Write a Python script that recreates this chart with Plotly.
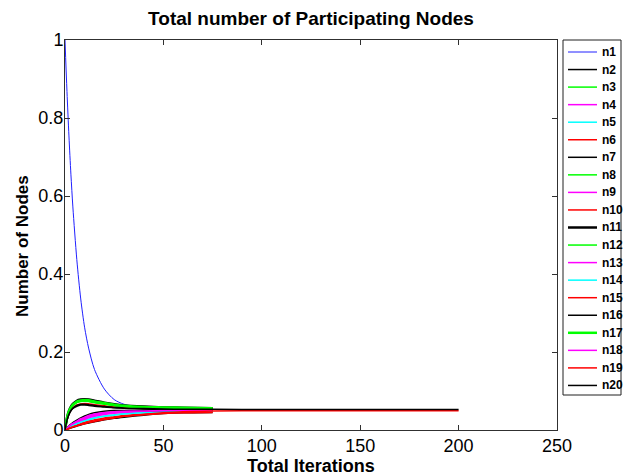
import plotly.graph_objects as go

# Iteration indices at which each node's share was sampled
iters = [0, 1, 2, 3, 4, 6, 8, 10, 12, 15, 20, 25, 30, 40, 50, 60, 75]
iters_long = iters + [100, 150, 200]

n1 = [1.0, 0.868, 0.754, 0.656, 0.572, 0.437, 0.336, 0.262, 0.210, 0.155, 0.105, 0.078, 0.066, 0.056, 0.052, 0.051, 0.050]
n2 = [0, 0.002, 0.004, 0.005, 0.007, 0.010, 0.013, 0.016, 0.018, 0.021, 0.026, 0.030, 0.033, 0.038, 0.042, 0.044, 0.045]
n3 = [0, 0.029, 0.047, 0.057, 0.064, 0.072, 0.075, 0.076, 0.075, 0.072, 0.068, 0.064, 0.061, 0.058, 0.057, 0.056, 0.055]
n4 = [0, 0.005, 0.009, 0.013, 0.016, 0.022, 0.027, 0.031, 0.035, 0.039, 0.043, 0.046, 0.047, 0.049, 0.049, 0.050, 0.050]
n5 = [0, 0.003, 0.006, 0.009, 0.012, 0.017, 0.021, 0.025, 0.028, 0.032, 0.036, 0.039, 0.042, 0.045, 0.047, 0.048, 0.049]
n6 = [0, 0.026, 0.041, 0.051, 0.057, 0.064, 0.067, 0.068, 0.067, 0.065, 0.062, 0.059, 0.057, 0.055, 0.054, 0.053, 0.053]
n7 = [0, 0.025, 0.040, 0.049, 0.055, 0.061, 0.064, 0.064, 0.063, 0.061, 0.059, 0.057, 0.056, 0.054, 0.053, 0.053, 0.052]
n8 = [0, 0.029, 0.046, 0.056, 0.063, 0.071, 0.074, 0.075, 0.074, 0.071, 0.067, 0.063, 0.061, 0.058, 0.056, 0.055, 0.055]
n9 = [0, 0.004, 0.008, 0.012, 0.015, 0.020, 0.025, 0.029, 0.033, 0.037, 0.041, 0.044, 0.046, 0.048, 0.049, 0.049, 0.050]
n10 = [0, 0.002, 0.005, 0.007, 0.009, 0.013, 0.017, 0.020, 0.023, 0.026, 0.031, 0.034, 0.037, 0.041, 0.044, 0.045, 0.046]
n11 = [0, 0.031, 0.049, 0.060, 0.067, 0.075, 0.078, 0.079, 0.078, 0.075, 0.070, 0.066, 0.063, 0.060, 0.058, 0.057, 0.056]
n12 = [0, 0.028, 0.045, 0.055, 0.062, 0.070, 0.073, 0.074, 0.073, 0.070, 0.066, 0.063, 0.060, 0.057, 0.056, 0.055, 0.054]
n13 = [0, 0.004, 0.007, 0.011, 0.014, 0.019, 0.023, 0.027, 0.031, 0.035, 0.040, 0.043, 0.045, 0.047, 0.048, 0.049, 0.049]
n14 = [0, 0.003, 0.006, 0.008, 0.011, 0.016, 0.020, 0.023, 0.026, 0.030, 0.035, 0.038, 0.041, 0.044, 0.046, 0.047, 0.048]
n15 = [0, 0.002, 0.004, 0.006, 0.008, 0.011, 0.014, 0.017, 0.020, 0.023, 0.028, 0.032, 0.035, 0.039, 0.042, 0.044, 0.045]
n16 = [0, 0.006, 0.011, 0.015, 0.019, 0.025, 0.031, 0.036, 0.040, 0.044, 0.048, 0.050, 0.050, 0.050, 0.050, 0.050, 0.050]
n17 = [0, 0.030, 0.048, 0.058, 0.065, 0.073, 0.076, 0.077, 0.076, 0.073, 0.069, 0.065, 0.062, 0.059, 0.058, 0.057, 0.056]
n18 = [0, 0.005, 0.010, 0.014, 0.017, 0.023, 0.029, 0.033, 0.037, 0.041, 0.045, 0.047, 0.048, 0.049, 0.050, 0.050, 0.050]
n19 = [0, 0.002, 0.004, 0.006, 0.008, 0.011, 0.014, 0.016, 0.019, 0.022, 0.027, 0.031, 0.035, 0.040, 0.044, 0.047, 0.049, 0.0495, 0.0495, 0.0495]
n20 = [0, 0.025, 0.040, 0.050, 0.056, 0.063, 0.066, 0.066, 0.065, 0.063, 0.060, 0.058, 0.056, 0.055, 0.054, 0.053, 0.053, 0.0527, 0.0525, 0.0525]

names = [f"n{i}" for i in range(1, 21)]
series = [n1, n2, n3, n4, n5, n6, n7, n8, n9, n10,
          n11, n12, n13, n14, n15, n16, n17, n18, n19, n20]
colors = ["#2020ff", "#000000", "#00ff00", "#ff00ff", "#00ffff", "#ff0000",
          "#000000", "#00ff00", "#ff00ff", "#ff0000", "#000000", "#00ff00",
          "#ff00ff", "#00ffff", "#ff0000", "#000000", "#00ff00", "#ff00ff",
          "#ff0000", "#000000"]
widths = [1, 1.5, 1.5, 1.5, 1.5, 1.5, 1.5, 1.5, 1.5, 1.5,
          2.5, 1.5, 1.5, 1.5, 1.5, 1.5, 2.5, 1.5, 1.5, 1.5]

FONT = "Liberation Sans, Arial, Helvetica, sans-serif"

fig = go.Figure()
for name, ys, col, w in zip(names, series, colors, widths):
    xs = iters_long if len(ys) == len(iters_long) else iters
    fig.add_trace(go.Scatter(
        x=xs, y=ys, mode="lines", name=name,
        line=dict(color=col, width=w, shape="spline", smoothing=0.8),
        showlegend=False,
    ))

# Plot area in pixels: x 65..557, y 40..430
L, R, T, B = 65, 557, 40, 430
W, H = R - L, B - T


def px_x(p):
    return (p - L) / W


def px_y(p):
    return (B - p) / H


shapes = [dict(type="rect", xref="paper", yref="paper",
               x0=px_x(563), x1=px_x(621), y0=px_y(395), y1=px_y(40),
               line=dict(color="#202020", width=1), fillcolor="white")]
annotations = []
for i, (name, col, w) in enumerate(zip(names, colors, widths)):
    yc = px_y(52 + i * 17.55)
    shapes.append(dict(type="line", xref="paper", yref="paper",
                       x0=px_x(568), x1=px_x(597), y0=yc, y1=yc,
                       line=dict(color=col, width=w)))
    annotations.append(dict(xref="paper", yref="paper", x=px_x(600), y=yc,
                            xanchor="left", yanchor="middle", showarrow=False,
                            text=f"<b>{name}</b>",
                            font=dict(family=FONT, size=12, color="black")))

# Axis titles
annotations.append(dict(xref="paper", yref="paper", x=px_x(311), y=px_y(466),
                        xanchor="center", yanchor="middle", showarrow=False,
                        text="<b>Total Iterations</b>",
                        font=dict(family=FONT, size=18, color="black")))
annotations.append(dict(xref="paper", yref="paper", x=px_x(22), y=px_y(246),
                        xanchor="center", yanchor="middle", showarrow=False,
                        textangle=-90, text="<b>Number of Nodes</b>",
                        font=dict(family=FONT, size=17, color="black")))

axis_common = dict(
    showline=True, linecolor="#303030", linewidth=1, mirror="ticks",
    ticks="inside", ticklen=5, tickcolor="#303030",
    showgrid=False, zeroline=False,
    tickfont=dict(family=FONT, size=18, color="black"),
)

fig.update_layout(
    width=623, height=475,
    margin=dict(l=L, r=623 - R, t=T, b=475 - B),
    paper_bgcolor="white", plot_bgcolor="white",
    title=dict(text="<b>Total number of Participating Nodes</b>",
               x=(L + R) / 2 / 623, xanchor="center", y=1 - 18 / 475, yanchor="middle",
               font=dict(family=FONT, size=19, color="black")),
    xaxis=dict(range=[0, 250], tickvals=[0, 50, 100, 150, 200, 250],
               ticklabelstandoff=-1, **axis_common),
    yaxis=dict(range=[0, 1], tickvals=[0, 0.2, 0.4, 0.6, 0.8, 1],
               ticktext=["0", "0.2", "0.4", "0.6", "0.8", "1"],
               ticklabelstandoff=-3, **axis_common),
    shapes=shapes, annotations=annotations,
)

fig.write_html("out.html")
